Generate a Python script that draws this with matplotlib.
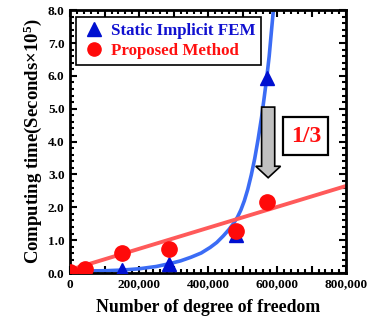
import numpy as np
import matplotlib
matplotlib.use("Agg")
import matplotlib.pyplot as plt
from matplotlib.ticker import MultipleLocator, FuncFormatter
from matplotlib.patches import FancyArrow, Rectangle

plt.rcParams['font.family'] = ['Liberation Serif', 'DejaVu Serif']
plt.rcParams['font.weight'] = 'bold'
plt.rcParams['mathtext.fontset'] = 'custom'
plt.rcParams['mathtext.rm'] = 'Liberation Serif:bold'
plt.rcParams['mathtext.bf'] = 'Liberation Serif:bold'
plt.rcParams['mathtext.default'] = 'bf'

# measured points
dof = [0, 43000, 150000, 288000, 480000, 572000]
fem_time = [0.0, 0.0, 0.08, 0.27, 1.17, 5.95]
prop_time = [0.03, 0.12, 0.6, 0.72, 1.28, 2.17]

# blue fitted curve
fem_curve_x = [0, 50000, 100000, 150000, 200000, 250000, 290000, 320000, 350000,
               380000, 406000, 425000, 444000, 460000, 473000, 485000, 495000,
               505000, 515000, 525000, 535000, 545000, 555000, 562000, 570000,
               577000, 583000, 590000]
fem_curve_y = [0.06, 0.065, 0.07, 0.09, 0.13, 0.2, 0.29, 0.37, 0.48,
               0.61, 0.78, 0.93, 1.13, 1.32, 1.5, 1.7, 1.92,
               2.2, 2.55, 2.98, 3.48, 4.08, 4.75, 5.3, 5.95,
               6.6, 7.3, 8.1]

# red fitted line (end points)
prop_line_x = [0, 800000]
prop_line_y = [0.1, 2.65]

fig = plt.figure(figsize=(3.75, 3.27), dpi=100)
ax = fig.add_axes([0.187, 0.165, 0.736, 0.804])

ax.plot(fem_curve_x, fem_curve_y, color='#3b6cf5', lw=2.6, zorder=2,
        solid_joinstyle='round')
ax.plot(prop_line_x, prop_line_y, color='#ff5a5a', lw=2.8, zorder=2)
ax.plot(dof, fem_time, '^', color='#0010d0', ms=10, ls='none', zorder=3,
        label='Static Implicit FEM')
ax.plot(dof, prop_time, 'o', color='#ff0a0a', ms=11, ls='none', zorder=4,
        label='Proposed Method')

ax.set_xlim(0, 800000)
ax.set_ylim(0, 8.0)
ax.xaxis.set_major_locator(MultipleLocator(100000))
ax.xaxis.set_minor_locator(MultipleLocator(20000))
ax.yaxis.set_major_locator(MultipleLocator(1.0))
ax.yaxis.set_minor_locator(MultipleLocator(0.2))
ax.xaxis.set_major_formatter(FuncFormatter(
    lambda v, p: '' if int(round(v)) % 200000 else f'{int(round(v)):,}'))
ax.yaxis.set_major_formatter(FuncFormatter(lambda v, p: f'{v:.1f}'))
ax.tick_params(which='both', direction='in', top=True, right=True, width=1.5,
               labelsize=9.5, pad=4)
ax.tick_params(which='major', length=5)
ax.tick_params(which='minor', length=3)
for lab in ax.get_xticklabels() + ax.get_yticklabels():
    lab.set_fontweight('bold')
for s in ax.spines.values():
    s.set_linewidth(2)

ax.set_xlabel('Number of degree of freedom', fontsize=12.8, fontweight='bold', labelpad=6)
ax.set_ylabel(r'Computing time(Seconds$\times$10$^5$)', fontsize=13.5,
              fontweight='bold', labelpad=3)

leg = ax.legend(loc='upper left', bbox_to_anchor=(0.01, 0.985), fancybox=False,
                edgecolor='black', framealpha=1, handletextpad=0.35,
                borderpad=0.32, labelspacing=0.25, handlelength=1.4,
                borderaxespad=0.2, prop={'weight': 'bold', 'size': 12.2})
leg.get_frame().set_linewidth(1.2)
for t, c in zip(leg.get_texts(), ['#1010d0', '#ff1010']):
    t.set_color(c)
for h in leg.legend_handles:
    h.set_markersize(9.5)

# reduction arrow and ratio box
ax.add_patch(FancyArrow(574000, 5.05, 0, -2.15, width=38000, head_width=72000,
                        head_length=0.35, length_includes_head=True,
                        facecolor='#c0c0c0', edgecolor='black', lw=1.2, zorder=5))
ax.add_patch(Rectangle((618000, 3.6), 130000, 1.15, facecolor='white',
                       edgecolor='black', lw=1.6, zorder=5))
ax.text(683000, 4.17, '1/3', color='#ff1010', fontsize=17, fontweight='bold',
        ha='center', va='center', zorder=6)

fig.savefig('out.png', dpi=100)
